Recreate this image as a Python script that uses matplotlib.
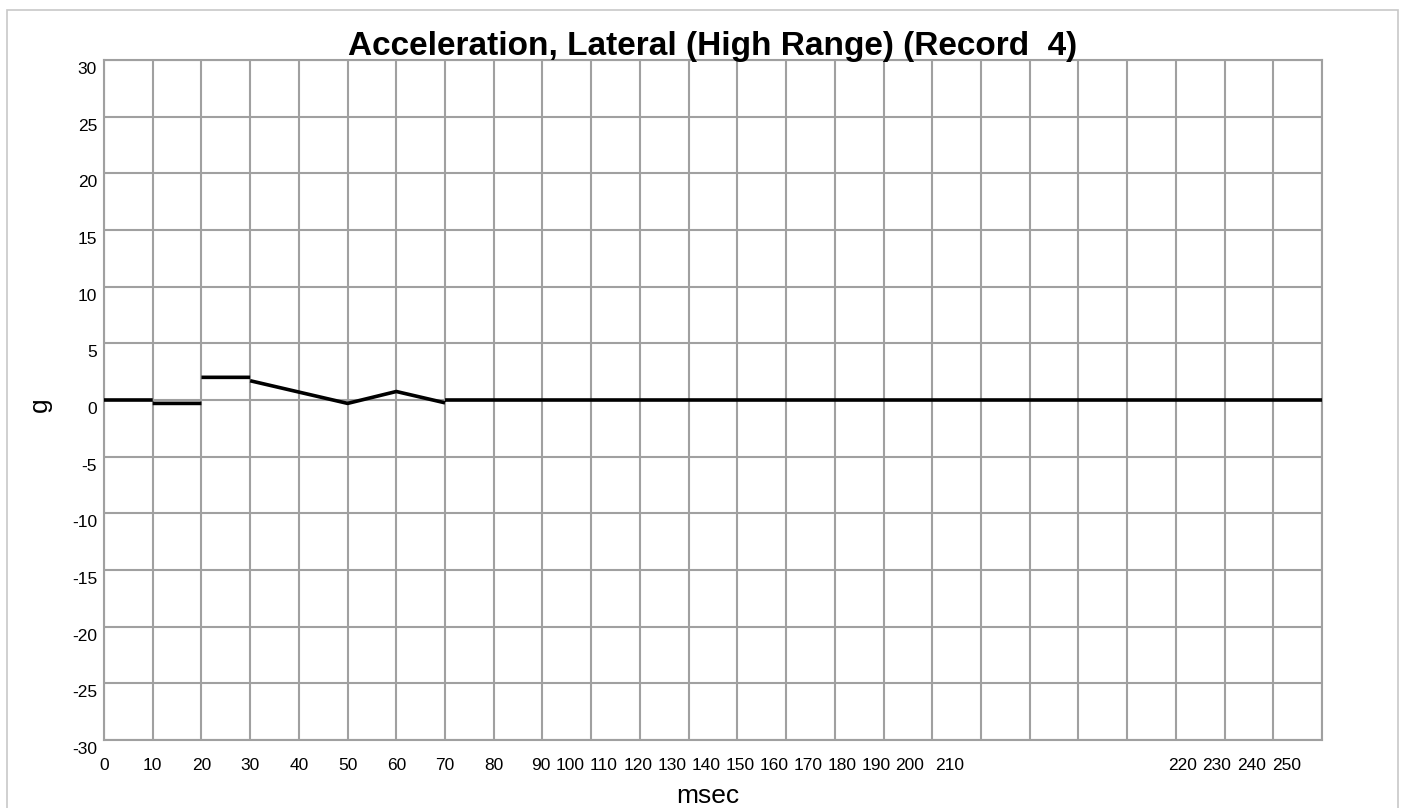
import numpy as np
import matplotlib
matplotlib.use("Agg")
import matplotlib.pyplot as plt
import matplotlib.transforms as mtransforms
from matplotlib.patches import Rectangle

plt.rcParams['font.family'] = ['Liberation Sans', 'DejaVu Sans']

# ---- data ----
# NaN splits the trace into the separate pieces seen in the plot
time_ms = [0, 10, np.nan, 10, 20, np.nan, 20, 30, np.nan,
           30, 40, 50, 60, 70, np.nan, 70, 250]
accel_g = [0, 0, np.nan, -0.3, -0.3, np.nan, 2.0, 2.0, np.nan,
           1.7, 0.7, -0.3, 0.75, -0.25, np.nan, 0, 0]

x_labels = ['0', '10', '20', '30', '40', '50', '60', '70', '80',
            '90', '100', '110', '120', '130', '140', '150', '160', '170',
            '180', '190', '200', '210', '220', '230', '240', '250']
# where the labels sit on the (crowded) axis
tick_pos = [0, 10, 20, 30, 40, 50, 60, 70, 80,
            89.7, 95.6, 102.6, 109.6, 116.6, 123.6, 130.5, 137.5, 144.5,
            151.5, 158.5, 165.4, 173.6, 221.3, 228.4, 235.6, 242.8]
y_ticks = np.arange(-30, 31, 5)

W, H = 1404, 808
fig = plt.figure(figsize=(W / 100, H / 100), dpi=100)
ax = fig.add_axes([104 / W, (H - 740) / H, (1322 - 104) / W, (740 - 60) / H])

grid_c = '#a0a0a0'
ax.plot(time_ms, accel_g, color='black', lw=2.6, zorder=3, solid_capstyle='butt')

ax.set_xlim(0, 250)
ax.set_ylim(-30, 30)

# gridlines every 10 msec, labels on minor ticks
ax.xaxis.remove_overlapping_locs = False
ax.set_xticks(np.arange(0, 251, 10))
ax.set_xticklabels([])
ax.set_xticks(tick_pos, minor=True)
ax.set_xticklabels(x_labels, minor=True, fontsize=12.5)
ax.tick_params(axis='x', which='both', length=0)
ax.tick_params(axis='x', which='minor', pad=13)

ax.set_yticks(y_ticks)
ax.set_yticklabels([str(v) for v in y_ticks], fontsize=12.5)
ax.tick_params(axis='y', length=0, pad=5)
off = mtransforms.ScaledTranslation(0, -8 / 100, fig.dpi_scale_trans)
for lab in ax.get_yticklabels():
    lab.set_transform(lab.get_transform() + off)

ax.grid(True, which='major', color=grid_c, lw=1.5)
ax.set_axisbelow(True)
for sp in ax.spines.values():
    sp.set_color(grid_c)
    sp.set_linewidth(1.5)

ax.set_xlabel('msec', fontsize=19, va='center')
ax.xaxis.set_label_coords((708 - 104) / 1218, (740 - 796) / 680)
ax.set_ylabel('g', fontsize=19, va='center', ha='center')
ax.yaxis.set_label_coords((40 - 104) / 1218, (740 - 405) / 680)

fig.text(713 / W, 1 - 47 / H, 'Acceleration, Lateral (High Range) (Record  4)',
         ha='center', va='center', fontsize=24, fontweight='bold')

fig.patches.append(Rectangle((7 / W, -0.02), (1398 - 7) / W, 1.02 - 9.7 / H,
                             transform=fig.transFigure, fill=False,
                             edgecolor='#c8c8c8', lw=1.2))

fig.savefig('out.png', dpi=100)
